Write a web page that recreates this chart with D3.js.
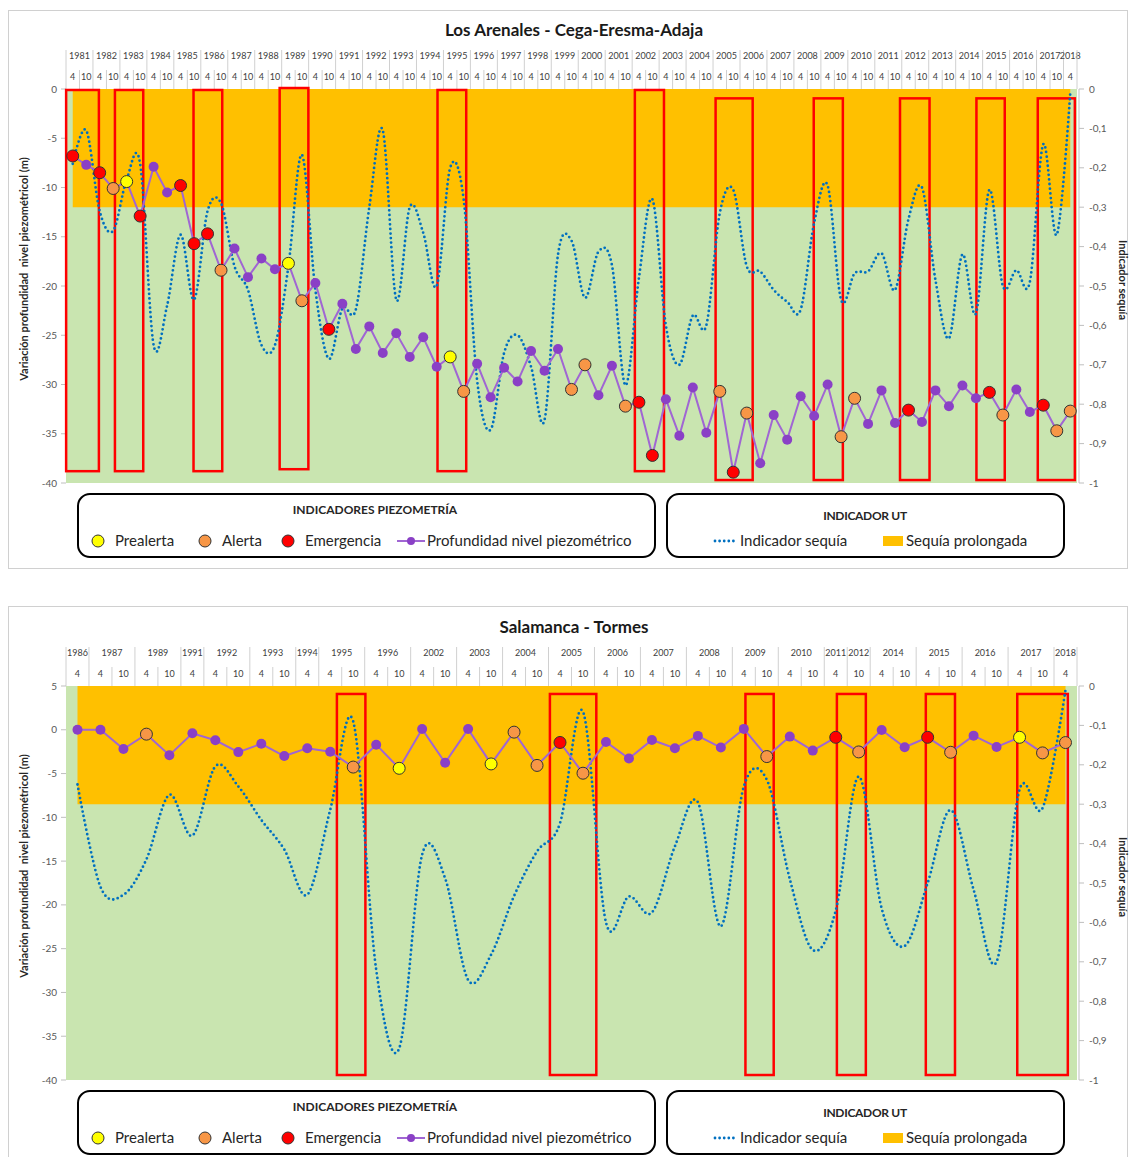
<!DOCTYPE html>
<html lang="es">
<head>
<meta charset="UTF-8">
<title>Indicadores piezometría</title>
<script src="https://d3js.org/d3.v7.min.js"></script>
<style>
  body { margin: 0; background: #fff; }
  svg { display: block; font-family: Lato, "Open Sans", sans-serif; }
  .tick-lbl { font-size: 10px; fill: #595959; }
  .hdr { font-size: 9px; fill: #404040; }
  .axis-title { font-size: 11px; font-weight: bold; fill: #262626; white-space: pre; }
  .legend-text { font-size: 15px; fill: #262626; }
  .legend-title { font-size: 12px; font-weight: bold; fill: #262626; }
</style>
</head>
<body>
<svg width="1130" height="1157"></svg>
<script>
// ---- Los Arenales - Cega-Eresma-Adaja ----
const arenalesGroups = [
  ["1981",["4","10"]],["1982",["4","10"]],["1983",["4","10"]],["1984",["4","10"]],["1985",["4","10"]],
  ["1986",["4","10"]],["1987",["4","10"]],["1988",["4","10"]],["1989",["4","10"]],["1990",["4","10"]],
  ["1991",["4","10"]],["1992",["4","10"]],["1993",["4","10"]],["1994",["4","10"]],["1995",["4","10"]],
  ["1996",["4","10"]],["1997",["4","10"]],["1998",["4","10"]],["1999",["4","10"]],["2000",["4","10"]],
  ["2001",["4","10"]],["2002",["4","10"]],["2003",["4","10"]],["2004",["4","10"]],["2005",["4","10"]],
  ["2006",["4","10"]],["2007",["4","10"]],["2008",["4","10"]],["2009",["4","10"]],["2010",["4","10"]],
  ["2011",["4","10"]],["2012",["4","10"]],["2013",["4","10"]],["2014",["4","10"]],["2015",["4","10"]],
  ["2016",["4","10"]],["2017",["4","10"]],["2018",["4"]]
];
const arenalesDepth = [
  -6.8,-7.7,-8.5,-10.1,-9.4,-12.9,-7.9,-10.5,-9.8,-15.7,
  -14.7,-18.4,-16.2,-19.1,-17.2,-18.3,-17.7,-21.5,-19.7,-24.4,
  -21.8,-26.4,-24.1,-26.8,-24.8,-27.2,-25.2,-28.2,-27.2,-30.7,
  -27.9,-31.3,-28.3,-29.7,-26.6,-28.6,-26.4,-30.5,-28.0,-31.1,
  -28.1,-32.2,-31.8,-37.2,-31.5,-35.2,-30.3,-34.9,-30.7,-38.9,
  -32.9,-38.0,-33.1,-35.6,-31.2,-33.2,-30.0,-35.3,-31.4,-34.0,
  -30.6,-33.9,-32.6,-33.8,-30.6,-32.2,-30.1,-31.4,-30.8,-33.1,
  -30.5,-32.8,-32.1,-34.7,-32.7
];
// N normal, P prealerta, A alerta, E emergencia
const arenalesState = [
  "E","N","E","A","P","E","N","N","E","E",
  "E","A","N","N","N","N","P","A","N","E",
  "N","N","N","N","N","N","N","N","P","A",
  "N","N","N","N","N","N","N","A","A","N",
  "N","A","E","E","N","N","N","N","A","E",
  "A","N","N","N","N","N","N","A","A","N",
  "N","N","E","N","N","N","N","N","E","A",
  "N","N","E","A","A"
];
const arenalesIndex = [
  -0.19,-0.105,-0.31,-0.36,-0.23,-0.19,-0.65,-0.55,-0.37,-0.535,
  -0.31,-0.29,-0.45,-0.51,-0.65,-0.65,-0.45,-0.167,-0.51,-0.685,
  -0.557,-0.56,-0.30,-0.105,-0.535,-0.30,-0.365,-0.50,-0.20,-0.28,
  -0.74,-0.865,-0.67,-0.625,-0.705,-0.84,-0.42,-0.385,-0.53,-0.413,
  -0.447,-0.752,-0.48,-0.28,-0.60,-0.70,-0.575,-0.60,-0.315,-0.256,
  -0.45,-0.463,-0.51,-0.54,-0.56,-0.34,-0.245,-0.535,-0.468,-0.463,
  -0.417,-0.51,-0.33,-0.25,-0.485,-0.633,-0.42,-0.57,-0.256,-0.50,
  -0.46,-0.49,-0.14,-0.37,-0.01
];
const arenalesProlonged = -0.3;
// drought periods: [from category, to category, top (m), bottom (m)]
const arenalesPeriods = [
  [-0.49, 1.94, -0.1, -38.8], [3.13, 5.23, -0.1, -38.8], [8.96, 11.09, -0.1, -38.8],
  [15.35, 17.48, 0.1, -38.6], [27.06, 29.19, -0.1, -38.8], [41.7, 43.86, -0.1, -38.8],
  [47.69, 50.44, -0.95, -39.7], [54.97, 57.13, -0.95, -39.7], [61.37, 63.56, -0.95, -39.7],
  [67.04, 69.14, -0.95, -39.7], [71.59, 74.34, -0.95, -39.7]
];

// ---- Salamanca - Tormes ----
const tormesGroups = [
  ["1986",["4"]],["1987",["4","10"]],["1989",["4","10"]],["1991",["4"]],["1992",["4","10"]],
  ["1993",["4","10"]],["1994",["4"]],["1995",["4","10"]],["1996",["4","10"]],["2002",["4","10"]],
  ["2003",["4","10"]],["2004",["4","10"]],["2005",["4","10"]],["2006",["4","10"]],["2007",["4","10"]],
  ["2008",["4","10"]],["2009",["4","10"]],["2010",["4","10"]],["2011",["4"]],["2012",["10"]],
  ["2014",["4","10"]],["2015",["4","10"]],["2016",["4","10"]],["2017",["4","10"]],["2018",["4"]]
];
const tormesDepth = [
  0.0,0.0,-2.2,-0.5,-2.9,-0.4,-1.2,-2.55,-1.6,-3.0,
  -2.1,-2.5,-4.26,-1.7,-4.4,0.08,-3.76,0.08,-3.9,-0.27,
  -4.07,-1.45,-4.96,-1.39,-3.29,-1.16,-2.1,-0.7,-2.03,0.1,
  -3.06,-0.78,-2.38,-0.86,-2.53,-0.02,-2.0,-0.86,-2.57,-0.67,
  -1.96,-0.86,-2.64,-1.46
];
const tormesState = [
  "N","N","N","A","N","N","N","N","N","N",
  "N","N","A","N","P","N","N","N","P","A",
  "A","E","A","N","N","N","N","N","N","N",
  "A","N","N","E","A","N","N","E","A","N",
  "N","P","A","A"
];
const tormesIndex = [
  -0.25,-0.51,-0.53,-0.44,-0.276,-0.38,-0.204,-0.255,-0.34,-0.415,
  -0.53,-0.314,-0.09,-0.72,-0.92,-0.428,-0.488,-0.746,-0.682,-0.533,
  -0.42,-0.348,-0.065,-0.6,-0.534,-0.575,-0.407,-0.295,-0.61,-0.255,
  -0.238,-0.49,-0.67,-0.57,-0.23,-0.565,-0.66,-0.50,-0.315,-0.517,
  -0.70,-0.263,-0.31,-0.01
];
const tormesProlonged = -0.3;
const tormesPeriods = [
  [11.29, 12.53, 4.09, -39.43], [20.56, 22.58, 4.09, -39.43], [29.07, 30.3, 4.09, -39.43],
  [33.05, 34.31, 4.09, -39.43], [36.92, 38.19, 4.09, -39.43], [40.9, 43.1, 4.09, -39.43]
];

const stateColor = { P: "#ffff00", A: "#f79646", E: "#ff0000" };
const lineColor = "#a066d3", markerColor = "#8a40c6", blue = "#0070c0";
const fmtR = v => String(Math.round(v * 10) / 10).replace(".", ",");

const svg = d3.select("svg");

function drawChart(c) {
  const g = svg.append("g");
  const n = c.depth.length;
  const L = 66, R = 1077, T = c.top, B = c.bottom;
  const x = d3.scaleLinear().domain([-0.5, n - 0.5]).range([L, R]);
  const yL = d3.scaleLinear().domain(c.leftDomain).range([B, T]);
  const yR = d3.scaleLinear().domain([-1, 0]).range([B, T]);

  g.append("rect").attr("x", 8.5).attr("y", c.panelTop + 0.5)
    .attr("width", 1119).attr("height", c.panelHeight)
    .attr("fill", "none").attr("stroke", "#d0d0d0");

  g.append("text").attr("x", 574).attr("y", T - 53)
    .attr("text-anchor", "middle").style("font-size", "17px").style("font-weight", "bold")
    .attr("fill", "#1a1a1a").text(c.title);

  // header with years / months
  let start = 0;
  const hdr = g.append("g");
  c.groups.forEach(([year, months]) => {
    hdr.append("line").attr("x1", x(start - 0.5)).attr("x2", x(start - 0.5))
      .attr("y1", T - 39).attr("y2", T).attr("stroke", "#d0d0d0");
    hdr.append("text").attr("class", "hdr").attr("text-anchor", "middle")
      .attr("x", x(start + (months.length - 1) / 2)).attr("y", T - 30).text(year);
    months.forEach((m, j) => {
      if (j > 0) hdr.append("line").attr("x1", x(start + j - 0.5)).attr("x2", x(start + j - 0.5))
        .attr("y1", T - 19).attr("y2", T).attr("stroke", "#d0d0d0");
      hdr.append("text").attr("class", "hdr").attr("text-anchor", "middle")
        .attr("x", x(start + j)).attr("y", T - 9.5).text(m);
    });
    start += months.length;
  });
  hdr.append("line").attr("x1", x(n - 0.5)).attr("x2", x(n - 0.5))
    .attr("y1", T - 39).attr("y2", T).attr("stroke", "#d0d0d0");

  // backgrounds
  g.append("rect").attr("x", L).attr("y", T).attr("width", R - L).attr("height", B - T)
    .attr("fill", "#c9e5b0");
  g.append("path").datum(c.depth)
    .attr("d", d3.area().x((d, i) => x(i)).y0(yR(0)).y1(yR(c.prolonged)))
    .attr("fill", "#ffc000");

  // left axis
  const lt = d3.range(c.leftDomain[1], c.leftDomain[0] - 1, -5);
  g.selectAll(null).data(lt).join("line")
    .attr("x1", L - 5).attr("x2", L).attr("y1", d => yL(d)).attr("y2", d => yL(d))
    .attr("stroke", "#bfbfbf");
  g.selectAll(null).data(lt).join("text").attr("class", "tick-lbl")
    .attr("x", L - 9).attr("y", d => yL(d) + 3.5).attr("text-anchor", "end").text(d => String(d));

  // right axis
  const rt = d3.range(0, 11).map(i => -i / 10);
  g.append("line").attr("x1", R + 2).attr("x2", R + 2).attr("y1", T).attr("y2", B).attr("stroke", "#bfbfbf");
  g.selectAll(null).data(rt).join("line")
    .attr("x1", R + 2).attr("x2", R + 7).attr("y1", d => yR(d)).attr("y2", d => yR(d))
    .attr("stroke", "#bfbfbf");
  g.selectAll(null).data(rt).join("text").attr("class", "tick-lbl")
    .attr("x", R + 12).attr("y", d => yR(d) + 3.5).text(fmtR);

  // axis titles
  g.append("text").attr("class", "axis-title")
    .attr("transform", `translate(28,${(T + B) / 2 - 17}) rotate(-90)`)
    .attr("text-anchor", "middle").text("Variación profundidad  nivel piezométricol (m)");
  g.append("text").attr("class", "axis-title")
    .attr("transform", `translate(1119,${(T + B) / 2 - 6}) rotate(90)`)
    .attr("text-anchor", "middle").text("Indicador sequía");

  // drought periods
  g.selectAll(null).data(c.periods).join("rect")
    .attr("x", d => x(d[0])).attr("y", d => yL(d[2]))
    .attr("width", d => x(d[1]) - x(d[0])).attr("height", d => yL(d[3]) - yL(d[2]))
    .attr("fill", "none").attr("stroke", "#ff0000").attr("stroke-width", 2.5);

  // drought indicator
  g.append("path").datum(c.index)
    .attr("d", d3.line().x((d, i) => x(i)).y(d => yR(d)).curve(d3.curveCardinal.tension(0)))
    .attr("fill", "none").attr("stroke", blue).attr("stroke-width", 2.8)
    .attr("stroke-linecap", "round").attr("stroke-dasharray", "0 4.6");

  // piezometric depth
  g.append("path").datum(c.depth)
    .attr("d", d3.line().x((d, i) => x(i)).y(d => yL(d)))
    .attr("fill", "none").attr("stroke", lineColor).attr("stroke-width", 2);
  g.selectAll(null).data(c.depth).join("circle")
    .attr("cx", (d, i) => x(i)).attr("cy", d => yL(d))
    .attr("r", (d, i) => c.state[i] === "N" ? 5 : 6)
    .attr("fill", (d, i) => stateColor[c.state[i]] || markerColor)
    .attr("stroke", (d, i) => c.state[i] === "N" ? "none" : "#333")
    .attr("stroke-width", 1);

  drawLegend(g, B + 11);
}

function drawLegend(g, top) {
  g.append("rect").attr("x", 78).attr("y", top).attr("width", 577).attr("height", 63)
    .attr("rx", 12).attr("fill", "#fff").attr("stroke", "#000").attr("stroke-width", 2);
  g.append("rect").attr("x", 667).attr("y", top).attr("width", 397).attr("height", 63)
    .attr("rx", 12).attr("fill", "#fff").attr("stroke", "#000").attr("stroke-width", 2);
  g.append("text").attr("class", "legend-title").attr("x", 375).attr("y", top + 20)
    .attr("text-anchor", "middle").text("INDICADORES PIEZOMETRÍA");
  g.append("text").attr("class", "legend-title").attr("x", 865).attr("y", top + 26)
    .attr("text-anchor", "middle").style("letter-spacing", "-0.3px").text("INDICADOR UT");

  const cy = top + 47;
  const items = [["P", 98, "Prealerta"], ["A", 205, "Alerta"], ["E", 288, "Emergencia"]];
  items.forEach(([k, cx, label]) => {
    g.append("circle").attr("cx", cx).attr("cy", cy).attr("r", 6)
      .attr("fill", stateColor[k]).attr("stroke", "#333");
    g.append("text").attr("class", "legend-text").attr("x", cx + 17).attr("y", cy + 5).text(label);
  });
  g.append("line").attr("x1", 397).attr("x2", 425).attr("y1", cy).attr("y2", cy)
    .attr("stroke", lineColor).attr("stroke-width", 2);
  g.append("circle").attr("cx", 411).attr("cy", cy).attr("r", 4).attr("fill", markerColor);
  g.append("text").attr("class", "legend-text").attr("x", 427).attr("y", cy + 5)
    .text("Profundidad nivel piezométrico");

  g.append("line").attr("x1", 715).attr("x2", 735).attr("y1", cy).attr("y2", cy)
    .attr("stroke", blue).attr("stroke-width", 2.8).attr("stroke-linecap", "round")
    .attr("stroke-dasharray", "0 4.6");
  g.append("text").attr("class", "legend-text").attr("x", 740).attr("y", cy + 5).text("Indicador sequía");
  g.append("rect").attr("x", 883).attr("y", cy - 5).attr("width", 20).attr("height", 10).attr("fill", "#ffc000");
  g.append("text").attr("class", "legend-text").attr("x", 906).attr("y", cy + 5).text("Sequía prolongada");
}

drawChart({
  title: "Los Arenales - Cega-Eresma-Adaja", panelTop: 10, panelHeight: 558,
  top: 89, bottom: 483, leftDomain: [-40, 0],
  groups: arenalesGroups, depth: arenalesDepth, state: arenalesState, index: arenalesIndex,
  prolonged: arenalesProlonged, periods: arenalesPeriods
});
drawChart({
  title: "Salamanca - Tormes", panelTop: 606, panelHeight: 560,
  top: 686, bottom: 1080, leftDomain: [-40, 5],
  groups: tormesGroups, depth: tormesDepth, state: tormesState, index: tormesIndex,
  prolonged: tormesProlonged, periods: tormesPeriods
});
</script>
</body>
</html>
